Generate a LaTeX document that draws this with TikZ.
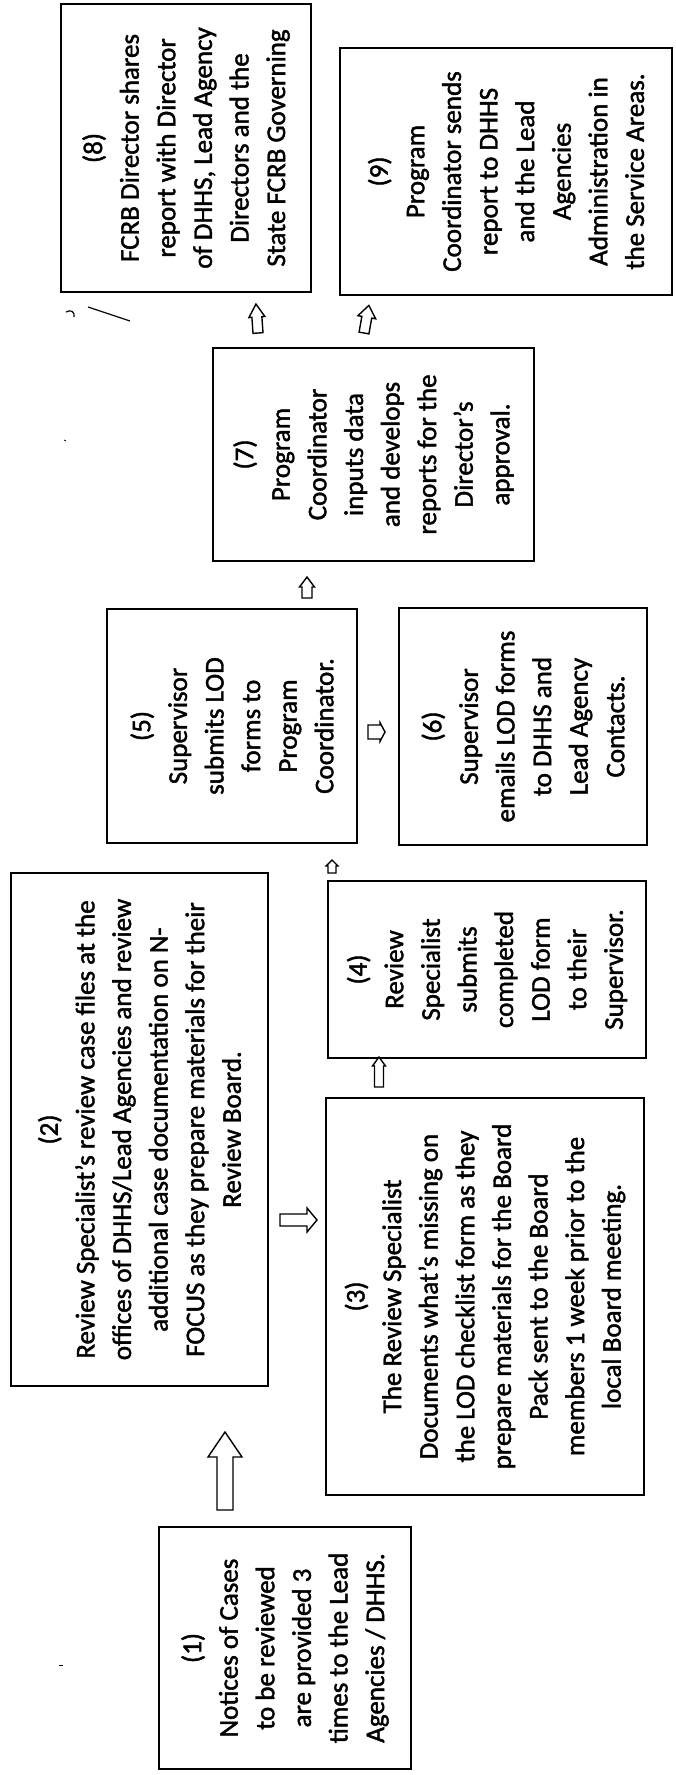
\documentclass[tikz,border=0pt]{standalone}
\usepackage{fontspec}
\setmainfont{Carlito}
\newfontfamily\scanfont{Carlito}[FakeBold=1.6]
\newcommand\barrow[6]{\draw[arrowline, shift={(#1)}, rotate=#2] (0,-#5) -- ({#3-#4},-#5) -- ({#3-#4},-#6) -- (#3,0) -- ({#3-#4},#6) -- ({#3-#4},#5) -- (0,#5) -- cycle;}
\begin{document}
\begin{tikzpicture}[x=1pt,y=-1pt,
  box/.style={draw, line width=1.6pt, rotate=90, inner sep=0pt, align=center,
    font=\scanfont\fontsize{27}{36.6}\selectfont},
  arrowline/.style={draw, line width=1.4pt, fill=white, line join=miter},
  stray/.style={line width=1.2pt}]
\useasboundingbox (0,0) rectangle (676,1775);

\node[box, minimum width=288pt, minimum height=250pt] (b8) at (186,148)
  {(8)\\FCRB Director shares\\report with Director\\of DHHS, Lead Agency\\Directors and the\\State FCRB Governing};
\node[box, minimum width=247pt, minimum height=332pt] (b9) at (506,171.5)
  {(9)\\Program\\Coordinator sends\\report to DHHS\\and the Lead\\Agencies\\Administration in\\the Service Areas.};
\node[box, minimum width=213pt, minimum height=321pt] (b7) at (373.5,454.5)
  {(7)\\Program\\Coordinator\\inputs data\\and develops\\reports for the\\Director’s\\approval.};
\node[box, minimum width=234pt, minimum height=250pt] (b5) at (232,726)
  {(5)\\Supervisor\\submits LOD\\forms to\\Program\\Coordinator.};
\node[box, minimum width=237pt, minimum height=248pt] (b6) at (523,726.5)
  {(6)\\Supervisor\\emails LOD forms\\to DHHS and\\Lead Agency\\Contacts.};
\node[box, minimum width=177pt, minimum height=318pt] (b4) at (487,969.5)
  {(4)\\Review\\Specialist\\submits\\completed\\LOD form\\to their\\Supervisor.};
\node[box, minimum width=513pt, minimum height=257pt] (b2) at (139.5,1129.5)
  {(2)\\Review Specialist’s review case files at the\\offices of DHHS/Lead Agencies and review\\additional case documentation on N-\\FOCUS as they prepare materials for their\\Review Board.};
\node[box, minimum width=397pt, minimum height=318pt] (b3) at (485,1296.5)
  {(3)\\The Review Specialist\\Documents what’s missing on\\the LOD checklist form as they\\prepare materials for the Board\\Pack sent to the Board\\members 1 week prior to the\\local Board meeting.};
\node[box, minimum width=242pt, minimum height=252pt] (b1) at (285,1648)
  {(1)\\Notices of Cases\\to be reviewed\\are provided 3\\times to the Lead\\Agencies / DHHS.};

% arrow tails
\coordinate (a78) at (258,333);
\coordinate (a79) at (364,333);
\coordinate (a57) at (307,598);
\coordinate (a56) at (368,732);
\coordinate (a45) at (332,873);
\coordinate (a34) at (379,1087);
\coordinate (a23) at (280,1220);
\coordinate (a12) at (225,1510);

\barrow{a78}{94}{29}{13}{5}{8}
\barrow{a79}{80}{28}{12}{5}{9}
\barrow{a57}{90}{21}{10}{5}{7.5}
\barrow{a56}{0}{17}{5}{7}{9.5}
\barrow{a45}{90}{13}{6}{4}{6}
\barrow{a34}{90}{30}{9}{4.5}{6.5}
\barrow{a23}{0}{37}{10}{6}{12}
\barrow{a12}{90}{78}{25}{8}{17}

% stray scan marks
\draw[stray] (66,312) .. controls (71,309) and (75,312) .. (74,317);
\draw[stray] (88,307) -- (130,321);
\draw[stray, line width=0.8pt] (64,440) -- (66,441);
\draw[stray, line width=0.8pt] (59,1665) -- (63,1665);
\end{tikzpicture}
\end{document}
